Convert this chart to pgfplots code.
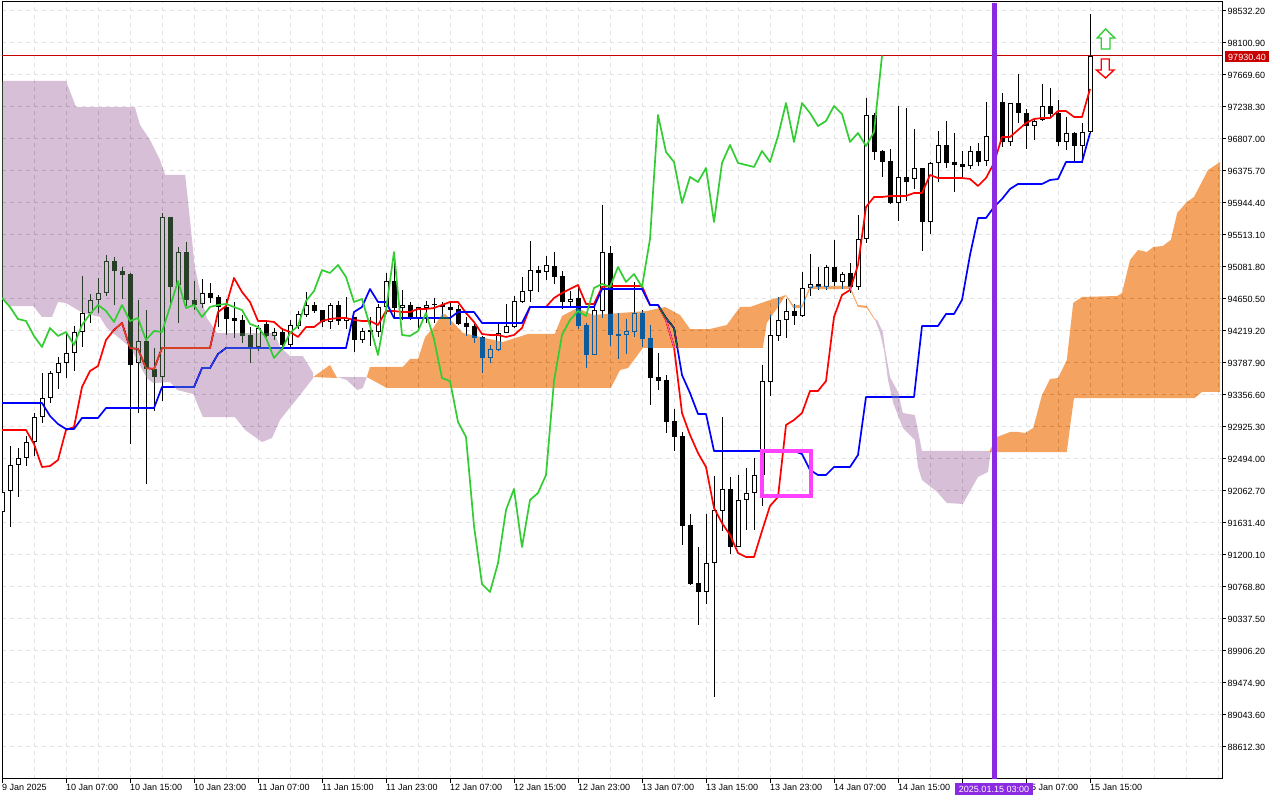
\documentclass[border=0pt]{standalone}
\usepackage{fontspec}
\setmainfont{Liberation Sans}
\usepackage{pgfplots}
\usepackage{pgfplotstable}
\pgfplotsset{compat=1.18}
\definecolor{gridc}{HTML}{E2E2E2}
\definecolor{xorange}{HTML}{0B5B9F}
\definecolor{xpurple}{HTML}{274027}
\definecolor{chik}{HTML}{32CD32}
\definecolor{boxc}{HTML}{FF40FF}
\definecolor{vlinec}{HTML}{8A2BE2}
\definecolor{pricec}{HTML}{C80000}
\pgfplotstableread{
i o h l c
0 91780 92211 91537 92049
1 92063 92669 91578 92413
2 92413 92642 91982 92508
3 92508 92804 92399 92723
4 92723 93114 92534 93060
5 93060 93653 92979 93316
6 93316 93680 93249 93653
7 93653 93869 93437 93788
8 93788 94179 93585 93923
9 93923 94287 93680 94206
10 94206 94961 94004 94462
11 94462 94718 94327 94637
12 94637 94934 94462 94731
13 94731 95244 94691 95163
14 95163 95217 94570 95028
15 95028 95082 94651 94974
16 94987 95001 92696 93761
17 93788 94637 93114 94085
18 94085 94502 92157 93707
19 93707 93990 93141 93599
20 93599 95810 93276 95756
21 95756 95756 94570 94812
22 94839 95351 94327 95284
23 95284 95419 94556 94637
24 94637 94893 94502 94570
25 94583 94920 94529 94731
26 94731 94866 94597 94664
27 94678 94704 94273 94543
28 94543 94651 94165 94381
29 94394 94610 94125 94354
30 94368 94435 94058 94152
31 94165 94273 93788 94004
32 94004 94300 93950 94260
33 94314 94341 94139 94152
34 94152 94260 94098 94206
35 94206 94260 93963 94031
36 94031 94368 94004 94300
37 94287 94489 94246 94448
38 94435 94745 94408 94570
39 94570 94610 94462 94489
40 94502 94502 94273 94341
41 94341 94597 94246 94570
42 94570 94624 94300 94354
43 94354 94678 94246 94394
44 94408 94408 93936 94098
45 94098 94260 94058 94219
46 94233 94408 94017 94206
47 94206 94583 94139 94543
48 94543 95001 94448 94893
49 94893 95271 94408 94529
50 94529 94772 94368 94570
51 94570 94610 94368 94408
52 94381 94543 94260 94543
53 94529 94624 94327 94570
54 94570 94664 94327 94584
55 94570 94610 94394 94543
56 94543 94610 94300 94502
57 94516 94570 94300 94314
58 94327 94408 94152 94273
59 94287 94327 94058 94125
60 94139 94152 93653 93855
61 93855 94031 93788 93977
62 93963 94327 93950 94192
63 94192 94583 94192 94287
64 94273 94691 94260 94624
65 94610 94947 94597 94758
66 94758 95432 94610 95041
67 95041 95095 94745 95001
68 95014 95230 94907 95109
69 95095 95284 94853 94947
70 94961 95028 94516 94610
71 94610 94758 94529 94651
72 94664 94799 94246 94287
73 94300 94327 93720 93896
74 93896 94570 93896 94502
75 94489 95918 94394 95284
76 95271 95365 94017 94165
77 94179 94462 93842 94152
78 94165 94381 93909 94219
79 94206 94880 94139 94462
80 94462 94502 94004 94112
81 94125 94300 93222 93585
82 93599 93923 93424 93545
83 93559 93626 92844 92993
84 93006 93168 92602 92791
85 92804 92858 91335 91591
86 91605 91753 90796 90809
87 90823 91308 90257 90702
88 90702 91753 90540 91092
89 91092 92265 89286 91807
90 91793 93060 91524 92090
91 92090 92252 91214 91308
92 91308 92278 91308 91942
93 91942 92372 91537 92036
94 92036 92508 91537 92278
95 92278 93761 91861 93545
96 93531 94435 93343 94165
97 94152 94678 94085 94368
98 94368 94651 94125 94489
99 94489 94583 94300 94421
100 94421 95014 94408 94799
101 94799 95257 94691 94853
102 94853 95082 94772 94812
103 94812 95109 94772 95082
104 95082 95446 94826 94880
105 94880 95014 94785 94987
106 95001 95136 94731 94812
107 94812 95783 94772 95459
108 95459 97360 95405 97131
109 97131 97157 96524 96632
110 96645 96659 96295 96497
111 96511 96672 95931 95945
112 95945 97252 95702 96295
113 96295 97225 95971 96227
114 96268 96942 96133 96416
115 96416 96416 95298 95688
116 95688 96497 95527 96484
117 96484 96915 96227 96726
118 96726 97050 96416 96484
119 96497 96888 96093 96457
120 96470 96645 96295 96430
121 96443 96713 96403 96645
122 96645 96753 96443 96497
123 96511 97306 96443 96847
124 96847 97360 96659 97292
125 97306 97427 96699 96767
126 96767 97292 96713 97292
127 97292 97683 97023 97157
128 97157 97211 96672 96982
129 96982 97090 96794 97050
130 97063 97548 97050 97252
131 97252 97494 97090 97144
132 97157 97333 96713 96767
133 96767 97104 96659 96888
134 96888 96901 96484 96713
135 96713 97023 96484 96901
136 96901 98492 96888 97930
}\candles
\begin{document}
\begin{tikzpicture}[x=1pt,y=1pt]
\path[use as bounding box,fill=white] (-2pt,-21pt) rectangle (1278pt,779pt);
\begin{axis}[
  at={(0pt,0pt)}, anchor=south west,
  scale only axis, width=1220pt, height=777pt,
  xmin=0, xmax=152.5, ymin=88181, ymax=98653.5,
  axis background/.style={fill=white},
  axis line style={black,line width=1pt},
  tick style={black,line width=1pt},
  tick align=outside, major tick length=4pt, minor tick length=0pt,
  xtick pos=lower, ytick pos=upper, yticklabel pos=upper,
  xtick={0,8,...,136},
  minor xtick={4,12,20,28,36,44,52,60,68,76,84,92,100,108,116,124,132,140,144,148,152},
  xticklabels={9 Jan 2025,10 Jan 07:00,10 Jan 15:00,10 Jan 23:00,11 Jan 07:00,11 Jan 15:00,11 Jan 23:00,12 Jan 07:00,12 Jan 15:00,12 Jan 23:00,13 Jan 07:00,13 Jan 15:00,13 Jan 23:00,14 Jan 07:00,14 Jan 15:00,14 Jan 23:00,15 Jan 07:00,15 Jan 15:00},
  ytick={98532.2,98100.9,97669.6,97238.3,96807,96375.7,95944.4,95513.1,95081.8,94650.5,94219.2,93787.9,93356.6,92925.3,92494,92062.7,91631.4,91200.1,90768.8,90337.5,89906.2,89474.9,89043.6,88612.3},
  yticklabels={98532.20,98100.90,97669.60,97238.30,96807.00,96375.70,95944.40,95513.10,95081.80,94650.50,94219.20,93787.90,93356.60,92925.30,92494.00,92062.70,91631.40,91200.10,90768.80,90337.50,89906.20,89474.90,89043.60,88612.30},
  x tick label style={font=\fontsize{9}{10}\selectfont,anchor=north west,inner sep=0pt,xshift=0pt,yshift=-1.5pt},
  y tick label style={font=\fontsize{9}{10}\selectfont,anchor=west,inner sep=0pt,xshift=1.5pt},
  grid=both,
  major grid style={gridc,line width=1pt,dash pattern=on 4pt off 4pt},
  minor grid style={gridc,line width=1pt,dash pattern=on 4pt off 4pt},
  every axis plot/.append style={forget plot},
]
% current price: a band one pixel high round 97930.40
\addplot[fill=pricec,draw=none] coordinates {(0,97938)(152.5,97938)(152.5,97922)(0,97922)} -- cycle;
% candle wicks
\addplot[draw=none,mark=none,error bars/.cd,y dir=minus,y explicit,error mark=none,error bar style={draw=black,solid,line width=1pt}]
  table[x=i,y expr=\thisrow{h},y error minus expr=\thisrow{h}-\thisrow{l}]{\candles};
% candle bodies
\addplot[draw=none,mark=none,error bars/.cd,y dir=minus,y explicit,error mark=none,error bar style={draw=black,solid,line width=5pt}]
  table[x=i,y expr={max(\thisrow{o},\thisrow{c})},y error minus expr={max(abs(\thisrow{o}-\thisrow{c}),13.5)}]{\candles};
% hollow interior of rising candles
\addplot[draw=none,mark=none,error bars/.cd,y dir=minus,y explicit,error mark=none,error bar style={draw=white,solid,line width=3pt}]
  table[x=i,y expr=\thisrow{c}-13.5,y error minus expr={max(\thisrow{c}-\thisrow{o}-27,0)}]{\candles};
% Tenkan
\addplot[red,line width=1.7pt,line join=round] coordinates {
(0,92885)(3,92885)(4,92696)(5,92386)(6,92399)(7,92480)(8,92885)(9,92926)(10,93464)(11,93680)(12,93747)(13,94098)(14,94233)(15,94327)(16,93990)(17,93977)(18,93720)(19,93707)(20,93990)(26,93990)(27,94475)(28,94556)(29,94934)(30,94745)(31,94610)(32,94354)(33,94354)(34,94341)(35,94246)(36,94206)(37,94139)(38,94273)(39,94273)(40,94354)(41,94381)(42,94394)(43,94394)(44,94368)(45,94354)(46,94354)(47,94300)(48,94489)(49,94489)(50,94475)(51,94475)(52,94516)(53,94516)(54,94529)(55,94570)(56,94610)(57,94610)(58,94462)(59,94341)(60,94179)(61,94165)(62,94165)(63,94139)(64,94165)(65,94260)(66,94543)(67,94543)(68,94543)(69,94664)(70,94731)(71,94785)(72,94839)(73,94583)(74,94583)(75,94812)(76,94826)(80,94826)(81,94570)(82,94570)(83,94368)(84,94004)(85,93114)(86,92818)(87,92575)(88,92386)(89,91834)(90,91631)(91,91470)(92,91227)(93,91173)(94,91173)(95,91524)(96,91861)(97,91982)(98,92952)(99,93020)(100,93114)(101,93411)(102,93411)(103,93545)(104,94408)(105,94704)(106,94772)(107,95109)(108,95891)(109,96025)(110,96025)(111,96039)(113,96039)(114,96079)(115,96079)(116,96322)(117,96281)(120,96281)(121,96268)(122,96174)(123,96281)(124,96484)(125,96834)(126,96834)(127,96928)(128,97023)(129,97077)(130,97090)(131,97090)(132,97184)(133,97184)(134,97104)(135,97104)(136,97481)};
% Kijun
\addplot[blue,line width=1.7pt,line join=round] coordinates {
(0,93249)(5,93249)(6,93074)(7,92966)(8,92898)(9,92898)(10,93047)(12,93047)(13,93181)(19,93181)(20,93464)(24,93464)(25,93720)(26,93720)(27,93909)(28,93990)(43,93990)(44,94475)(45,94543)(46,94785)(47,94610)(48,94610)(49,94394)(56,94394)(57,94475)(59,94475)(60,94327)(65,94327)(66,94543)(74,94543)(75,94785)(80,94785)(81,94570)(82,94570)(83,94394)(84,94260)(85,93626)(86,93383)(87,93101)(88,93101)(89,92602)(99,92602)(100,92561)(101,92346)(102,92278)(103,92278)(104,92386)(106,92386)(107,92548)(108,93330)(114,93330)(115,94287)(117,94287)(118,94448)(119,94448)(120,94637)(121,95244)(122,95742)(123,95742)(124,95891)(125,95998)(126,96133)(127,96201)(130,96201)(131,96254)(132,96268)(133,96497)(135,96497)(136,96888)};
% Kumo: filled with the inverse colour in difference mode, as the terminal does
\addplot[fill=xpurple,draw=none,blend mode=difference] coordinates {
(0,97589)(8,97589)(9.25,97238)(16.6,97238)(17.25,96996)(18.5,96794)(19.75,96524)(20.4,96322)(22.9,96322)(23.5,95715)(24.1,95082)(25,94637)(25.6,94394)(26.4,94273)(26.9,94192)(34.1,94192)(34.75,94004)(36,93882)(37.6,93882)(38.9,93653)(38.9,93585)(37.25,93357)(34.75,93020)(33.75,92777)(32.5,92723)(30.4,92885)(29.1,93060)(25.1,93060)(23.9,93370)(21.9,93424)(21,93532)(18.9,93518)(18.1,93585)(16,94004)(13.1,94260)(12.25,94408)(10.1,94462)(8,94597)(7,94610)(6.25,94408)(5,94408)(3.9,94556)(1,94556)(0,94664)} -- cycle;
\addplot[fill=xorange,draw=none,blend mode=difference] coordinates {
(38.9,93599)(41,93761)(41.9,93585)} -- cycle;
\addplot[fill=xpurple,draw=none,blend mode=difference] coordinates {
(41.9,93599)(45.6,93599)(45.1,93451)(44.4,93424)(43.1,93559)} -- cycle;
\addplot[fill=xorange,draw=none,blend mode=difference] coordinates {
(45.6,93599)(46,93734)(50.1,93734)(51,93842)(52,93842)(52.9,94139)(53.9,94260)(55,94448)(55.4,94448)(57.6,94192)(62.6,94071)(65.75,94179)(69.1,94179)(70,94421)(71.9,94529)(73.9,94435)(75.6,94448)(80.6,94489)(82.9,94543)(84.75,94435)(86,94246)(88.5,94246)(90.6,94300)(92.25,94543)(93.5,94543)(96,94637)(98,94704)(96.9,94529)(95.6,94327)(95.1,93990)(80.1,93990)(78.25,93720)(77.25,93693)(76.1,93451)(48.1,93451)} -- cycle;
\addplot[fill=xorange,draw=none,blend mode=difference] coordinates {
(98,94704)(98.9,94570)(100,94570)(101,94826)(106,94826)(107,94570)(108.1,94556)(109.1,94381)(109.1,94367)(108.1,94529)(107,94543)(106,94785)(101,94785)(100,94529)(98.9,94529)(98,94691)} -- cycle;
\addplot[fill=xpurple,draw=none,blend mode=difference] coordinates {
(109.1,94381)(109.4,94368)(110.1,94206)(110.4,93963)(111,93599)(112,93397)(112.6,93114)(114.1,93087)(114.4,92926)(115,92602)(123.6,92602)(123.25,92319)(122,92252)(120.1,91888)(118.1,91901)(116.9,92049)(115,92211)(114.5,92386)(114.1,92750)(112.6,92912)(111.4,93249)(110.75,93559)(110.25,93963)(109.75,94192)} -- cycle;
\addplot[fill=xorange,draw=none,blend mode=difference] coordinates {
(123.5,92615)(124.4,92791)(126,92858)(127,92858)(127.9,92844)(128.9,92912)(130,93357)(131,93572)(132,93585)(133.1,93828)(133.9,94597)(135,94678)(139.4,94691)(140,94731)(141,95176)(142,95311)(143.1,95284)(143.9,95351)(145.1,95365)(146.1,95446)(146.9,95810)(148.1,95958)(149,96025)(150.75,96389)(152.25,96497)(152.25,93397)(150,93397)(149.1,93316)(134,93316)(133.5,92926)(133.1,92588)(123.5,92588)} -- cycle;
% Chikou: the close, 26 bars back
\addplot[chik,line width=1.7pt,line join=round] table[x expr=\thisrow{i}-26,y=c,restrict x to domain=0:120]{\candles};
% arrows
\addplot[chik,line width=1.4pt,fill=white] coordinates {(137.94,98290)(139.1,98168)(138.5,98168)(138.5,98020)(137.4,98020)(137.4,98168)(136.9,98168)} -- cycle;
\addplot[red,line width=1.4pt,fill=white] coordinates {(137.4,97885)(138.4,97885)(138.4,97737)(139,97737)(137.94,97629)(136.8,97737)(137.4,97737)} -- cycle;
% highlighted box
\addplot[boxc,line width=4.5pt,line join=miter] coordinates {(95,92602)(101.1,92602)(101.1,91996)(95,91996)} -- cycle;
% vertical line
\addplot[vlinec,line width=5pt] coordinates {(124,88181)(124,98640)};
\end{axis}
\node[fill=pricec,text=white,inner sep=0pt,minimum width=44pt,minimum height=11pt,font=\fontsize{9}{10}\selectfont] at (1245pt,722pt) {97930.40};
\node[fill=vlinec,text=white,inner sep=0pt,minimum width=78pt,minimum height=12pt,font=\fontsize{9}{10}\selectfont] at (992pt,-10pt) {2025.01.15 03:00};
\end{tikzpicture}
\end{document}
